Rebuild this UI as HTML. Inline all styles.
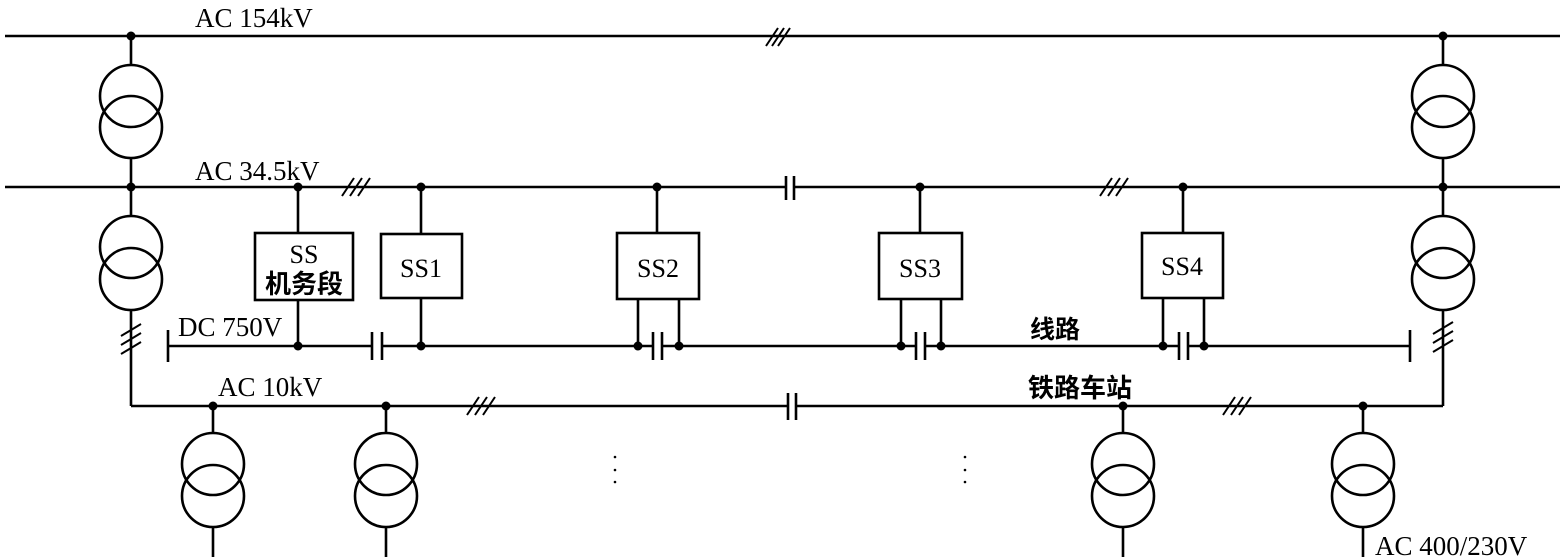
<!DOCTYPE html>
<html><head><meta charset="utf-8"><style>
html,body{margin:0;padding:0;background:#fff;}
svg{display:block;}
text{font-family:"Liberation Serif","Noto Serif CJK SC",serif;fill:#000;}
.cjk{font-family:"Liberation Serif","Noto Sans CJK SC",sans-serif;font-weight:bold;}
</style></head><body>
<svg width="1566" height="557" viewBox="0 0 1566 557" xmlns="http://www.w3.org/2000/svg">
<g stroke="#000" stroke-width="2.6" fill="none">
<line x1="5" y1="36" x2="1560" y2="36"/>
<line x1="5" y1="187" x2="786" y2="187"/>
<line x1="794" y1="187" x2="1560" y2="187"/>
<line x1="786" y1="176" x2="786" y2="200"/><line x1="794" y1="176" x2="794" y2="200"/>
<line x1="131" y1="36" x2="131" y2="65"/>
<circle cx="131" cy="96" r="31"/><circle cx="131" cy="127" r="31"/>
<line x1="131" y1="158" x2="131" y2="216"/>
<circle cx="131" cy="247" r="31"/><circle cx="131" cy="279" r="31"/>
<line x1="131" y1="310" x2="131" y2="406"/>
<line x1="1443" y1="36" x2="1443" y2="65"/>
<circle cx="1443" cy="96" r="31"/><circle cx="1443" cy="127" r="31"/>
<line x1="1443" y1="158" x2="1443" y2="216"/>
<circle cx="1443" cy="247" r="31"/><circle cx="1443" cy="279" r="31"/>
<line x1="1443" y1="310" x2="1443" y2="406"/>
<line x1="131" y1="406" x2="788" y2="406"/>
<line x1="796" y1="406" x2="1443" y2="406"/>
<line x1="788" y1="393" x2="788" y2="420"/><line x1="796" y1="393" x2="796" y2="420"/>
<line x1="168" y1="346" x2="372" y2="346"/>
<line x1="382" y1="346" x2="653" y2="346"/>
<line x1="662" y1="346" x2="916" y2="346"/>
<line x1="925" y1="346" x2="1179" y2="346"/>
<line x1="1188" y1="346" x2="1410" y2="346"/>
<line x1="168" y1="330" x2="168" y2="362"/>
<line x1="1410" y1="330" x2="1410" y2="362"/>
<line x1="372" y1="332" x2="372" y2="360"/><line x1="382" y1="332" x2="382" y2="360"/>
<line x1="653" y1="332" x2="653" y2="360"/><line x1="662" y1="332" x2="662" y2="360"/>
<line x1="916" y1="332" x2="916" y2="360"/><line x1="925" y1="332" x2="925" y2="360"/>
<line x1="1179" y1="332" x2="1179" y2="360"/><line x1="1188" y1="332" x2="1188" y2="360"/>
<rect x="255" y="233" width="98" height="67"/>
<rect x="381" y="234" width="81" height="64"/>
<rect x="617" y="233" width="82" height="66"/>
<rect x="879" y="233" width="83" height="66"/>
<rect x="1142" y="233" width="81" height="65"/>
<line x1="298" y1="187" x2="298" y2="233"/><line x1="298" y1="300" x2="298" y2="346"/>
<line x1="421" y1="187" x2="421" y2="234"/><line x1="421" y1="298" x2="421" y2="346"/>
<line x1="657" y1="187" x2="657" y2="233"/>
<line x1="638" y1="299" x2="638" y2="346"/><line x1="679" y1="299" x2="679" y2="346"/>
<line x1="920" y1="187" x2="920" y2="233"/>
<line x1="901" y1="299" x2="901" y2="346"/><line x1="941" y1="299" x2="941" y2="346"/>
<line x1="1183" y1="187" x2="1183" y2="233"/>
<line x1="1163" y1="298" x2="1163" y2="346"/><line x1="1204" y1="298" x2="1204" y2="346"/>
<line x1="213" y1="406" x2="213" y2="433"/><circle cx="213" cy="464" r="31"/><circle cx="213" cy="496" r="31"/><line x1="213" y1="527" x2="213" y2="557"/>
<line x1="386" y1="406" x2="386" y2="433"/><circle cx="386" cy="464" r="31"/><circle cx="386" cy="496" r="31"/><line x1="386" y1="527" x2="386" y2="557"/>
<line x1="1123" y1="406" x2="1123" y2="433"/><circle cx="1123" cy="464" r="31"/><circle cx="1123" cy="496" r="31"/><line x1="1123" y1="527" x2="1123" y2="557"/>
<line x1="1363" y1="406" x2="1363" y2="433"/><circle cx="1363" cy="464" r="31"/><circle cx="1363" cy="496" r="31"/><line x1="1363" y1="527" x2="1363" y2="557"/>
<g stroke-width="2">
<path d="M766 46 l12 -18 M772 46 l12 -18 M778 46 l12 -18"/>
<path d="M342 196 l12 -18 M350 196 l12 -18 M358 196 l12 -18"/>
<path d="M1100 196 l12 -18 M1108 196 l12 -18 M1116 196 l12 -18"/>
<path d="M467 415 l12 -18 M475 415 l12 -18 M483 415 l12 -18"/>
<path d="M1223 415 l12 -18 M1231 415 l12 -18 M1239 415 l12 -18"/>
<path d="M121 336 l20 -12 M121 345 l20 -12 M121 354 l20 -12"/>
<path d="M1433 334 l20 -12 M1433 343 l20 -12 M1433 352 l20 -12"/>
</g>
</g>
<g fill="#000">
<circle cx="131" cy="36" r="4.5"/><circle cx="1443" cy="36" r="4.5"/>
<circle cx="131" cy="187" r="4.5"/><circle cx="298" cy="187" r="4.5"/><circle cx="421" cy="187" r="4.5"/><circle cx="657" cy="187" r="4.5"/><circle cx="920" cy="187" r="4.5"/><circle cx="1183" cy="187" r="4.5"/><circle cx="1443" cy="187" r="4.5"/>
<circle cx="298" cy="346" r="4.5"/><circle cx="421" cy="346" r="4.5"/><circle cx="638" cy="346" r="4.5"/><circle cx="679" cy="346" r="4.5"/><circle cx="901" cy="346" r="4.5"/><circle cx="941" cy="346" r="4.5"/><circle cx="1163" cy="346" r="4.5"/><circle cx="1204" cy="346" r="4.5"/>
<circle cx="213" cy="406" r="4.5"/><circle cx="386" cy="406" r="4.5"/><circle cx="1123" cy="406" r="4.5"/><circle cx="1363" cy="406" r="4.5"/>
<circle cx="615" cy="457" r="1.3"/><circle cx="615" cy="470" r="1.3"/><circle cx="615" cy="482" r="1.3"/>
<circle cx="965" cy="457" r="1.3"/><circle cx="965" cy="470" r="1.3"/><circle cx="965" cy="482" r="1.3"/>
</g>
<text x="195" y="27" font-size="27">AC 154kV</text>
<text x="195" y="180" font-size="27">AC 34.5kV</text>
<text x="178" y="336" font-size="27">DC 750V</text>
<text x="218" y="396" font-size="27">AC 10kV</text>
<text x="1375" y="555" font-size="27">AC 400/230V</text>
<text x="304" y="263" font-size="26" text-anchor="middle">SS</text>
<text x="304" y="293" font-size="26" text-anchor="middle" class="cjk">机务段</text>
<text x="421" y="277" font-size="26" text-anchor="middle">SS1</text>
<text x="658" y="277" font-size="26" text-anchor="middle">SS2</text>
<text x="920" y="277" font-size="26" text-anchor="middle">SS3</text>
<text x="1182" y="275" font-size="26" text-anchor="middle">SS4</text>
<text x="1030" y="338" font-size="25" class="cjk">线路</text>
<text x="1028" y="397" font-size="26" class="cjk">铁路车站</text>
</svg>
</body></html>
